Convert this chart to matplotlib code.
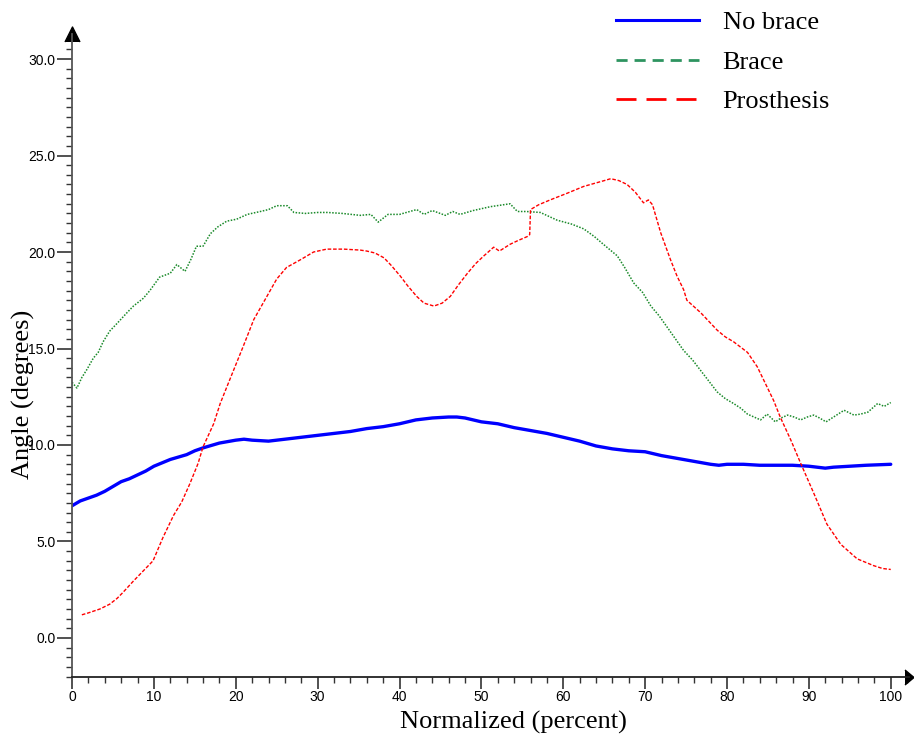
import matplotlib
matplotlib.use("Agg")
import matplotlib.pyplot as plt
from matplotlib.lines import Line2D
from matplotlib.ticker import MultipleLocator, FormatStrFormatter

# Data
no_brace_x = [0, 1, 2, 3, 4, 5, 6, 7, 8, 9, 10, 12, 14, 15, 16, 18, 20, 21, 22, 24,
              25, 27, 30, 32, 34, 36, 38, 40, 42, 44, 46, 47, 48, 50, 52, 54, 56, 58,
              60, 62, 64, 66, 68, 70, 72, 74, 76, 78, 79, 80, 82, 84, 86, 88, 90, 91,
              92, 93, 95, 97, 100]
no_brace_y = [6.85, 7.1, 7.25, 7.4, 7.6, 7.85, 8.1, 8.25, 8.45, 8.65, 8.9, 9.25, 9.5,
              9.7, 9.85, 10.1, 10.25, 10.3, 10.25, 10.2, 10.25, 10.35, 10.5, 10.6, 10.7,
              10.85, 10.95, 11.1, 11.3, 11.4, 11.45, 11.45, 11.4, 11.2, 11.1, 10.9,
              10.75, 10.6, 10.4, 10.2, 9.95, 9.8, 9.7, 9.65, 9.45, 9.3, 9.15, 9.0, 8.95,
              9.0, 9.0, 8.95, 8.95, 8.95, 8.9, 8.85, 8.8, 8.85, 8.9, 8.95, 9.0]

brace_x = [0, 0.6, 1.2, 1.8, 2.6, 3.2, 3.8, 4.6, 5.5, 6.7, 7.5, 8.7, 9.5, 10.7, 12.0,
           12.8, 13.8, 14.5, 15.2, 16.0, 16.9, 17.8, 18.9, 20.1, 21.4, 23.0, 24.0, 25.0,
           26.3, 27.1, 28.5, 30, 31.2, 33, 35.2, 36.5, 37.4, 38.6, 40, 42.1, 43, 44,
           45.6, 46.5, 47.4, 49, 51.1, 53.5, 54.4, 55.5, 57.2, 59.25, 61, 62.5, 63.8,
           64.9, 66.6, 67.5, 68.6, 69.7, 70.7, 71.7, 72.7, 73.7, 74.7, 75.8, 76.8, 77.8,
           78.8, 79.8, 80.8, 81.7, 82.5, 83.3, 84.1, 84.9, 85.9, 86.6, 87.4, 88.2, 89,
           89.8, 90.6, 91.3, 92.1, 93.2, 94.3, 95.5, 96.3, 97.2, 98.4, 99.2, 100]
brace_y = [13.25, 12.95, 13.5, 13.9, 14.5, 14.8, 15.35, 15.9, 16.3, 16.85, 17.2, 17.6,
           18.0, 18.7, 18.9, 19.35, 19.0, 19.6, 20.3, 20.3, 20.95, 21.3, 21.6, 21.7,
           21.95, 22.1, 22.2, 22.4, 22.4, 22.05, 22.0, 22.05, 22.05, 22.0, 21.9, 21.95,
           21.55, 21.95, 21.95, 22.2, 21.95, 22.15, 21.9, 22.1, 21.95, 22.15, 22.35,
           22.5, 22.1, 22.1, 22.05, 21.65, 21.45, 21.2, 20.8, 20.4, 19.8, 19.2, 18.4,
           17.9, 17.2, 16.7, 16.1, 15.5, 14.9, 14.4, 13.85, 13.3, 12.75, 12.4, 12.15,
           11.9, 11.6, 11.45, 11.3, 11.6, 11.2, 11.4, 11.55, 11.45, 11.3, 11.45, 11.55,
           11.4, 11.2, 11.5, 11.8, 11.55, 11.6, 11.7, 12.15, 12.0, 12.2]

prosthesis_x = [1.2, 2, 3.4, 4.6, 5.5, 6.2, 7.5, 8.3, 9.1, 9.9, 11.1, 12.4, 13.4, 14.4,
                15.4, 16.0, 17.3, 18.1, 18.9, 19.9, 20.9, 22.2, 23.8, 25, 26.2, 27.9,
                29.5, 31.1, 33.2, 35.2, 36, 37, 38.1, 39, 40.1, 41, 42.1, 43, 44.2, 45.2,
                46.2, 47.2, 48.3, 49.3, 50.3, 51.5, 52.2, 53.5, 54.5, 55.6, 55.9, 56.0,
                57, 58.4, 60.5, 62.5, 65, 65.8, 66.8, 67.8, 68.8, 69.8, 70.4, 70.9, 71.9,
                73.1, 73.9, 74.7, 75.1, 76.8, 78.8, 79.8, 80.8, 82.5, 83.7, 84.9, 85.7,
                86.5, 87.8, 89, 90.6, 92.2, 93.9, 95.9, 97.9, 99, 100]
prosthesis_y = [1.2, 1.3, 1.5, 1.75, 2.05, 2.35, 2.95, 3.3, 3.65, 4.0, 5.2, 6.35, 7.05,
                8.0, 9.05, 9.9, 11.1, 12.15, 13.0, 14.05, 15.1, 16.5, 17.7, 18.6, 19.2,
                19.6, 20.0, 20.15, 20.15, 20.1, 20.05, 19.95, 19.7, 19.3, 18.75, 18.25,
                17.7, 17.35, 17.2, 17.35, 17.7, 18.3, 18.9, 19.4, 19.8, 20.25, 20.05,
                20.4, 20.6, 20.8, 20.9, 22.2, 22.45, 22.7, 23.05, 23.4, 23.7, 23.8, 23.7,
                23.5, 23.1, 22.55, 22.7, 22.45, 21.0, 19.6, 18.75, 18.05, 17.5, 16.85,
                15.95, 15.6, 15.35, 14.8, 14.05, 13.0, 12.3, 11.45, 10.25, 9.05, 7.5, 5.9,
                4.85, 4.1, 3.75, 3.6, 3.55]

series_labels = ["No brace", "Brace", "Prosthesis"]

serif = "Liberation Serif"
sans = "Liberation Sans"

fig = plt.figure(figsize=(9.14, 7.48), dpi=100)
ax = fig.add_axes([0.0788, 0.0955, 0.9152, 0.8591])

ax.plot(no_brace_x, no_brace_y, color="blue", lw=2.4, solid_capstyle="round")
ax.plot(brace_x, brace_y, color="#1a8a2a", lw=1.1, linestyle=(0, (1, 1)))
ax.plot(prosthesis_x, prosthesis_y, color="red", lw=1.0, linestyle=(0, (2.6, 1.3)))

ax.set_xlim(0, 102.17)
ax.set_ylim(-2, 31.3)

# spines: only left and bottom, with arrow heads
for side in ["top", "right"]:
    ax.spines[side].set_visible(False)
ax.spines["left"].set_color("#555555")
ax.spines["bottom"].set_color("#222222")
ax.spines["left"].set_linewidth(1.3)
ax.spines["bottom"].set_linewidth(1.3)

x_arrow = [(-0.6, -1), (0.6, 0), (-0.6, 1)]
y_arrow = [(-1, -1), (0, 1), (1, -1)]
ax.plot(1, 0, marker=x_arrow, ms=10.8, color="black", transform=ax.transAxes, clip_on=False)
ax.plot(0, 1, marker=y_arrow, ms=10.8, color="black", transform=ax.transAxes, clip_on=False)

# ticks
ax.xaxis.set_minor_locator(MultipleLocator(2))
ax.yaxis.set_minor_locator(MultipleLocator(0.5))
ax.yaxis.set_major_formatter(FormatStrFormatter("%.1f"))
ax.set_xticks(list(range(0, 101, 10)))
ax.set_yticks([0, 5, 10, 15, 20, 25, 30])

ax.tick_params(axis="x", which="major", direction="out", length=8.5, width=1.2,
               color="#333333", pad=1.5, labelsize=10)
ax.tick_params(axis="x", which="minor", direction="out", length=4.5, width=1.0, color="#333333")
ax.tick_params(axis="y", which="major", direction="out", length=10.5, width=1.2,
               color="#333333", pad=1.5, labelsize=10)
ax.tick_params(axis="y", which="minor", direction="out", length=4.5, width=1.0, color="#333333")
for lab in ax.get_xticklabels() + ax.get_yticklabels():
    lab.set_fontfamily(sans)

ax.set_xlabel("Normalized (percent)", fontsize=19, fontfamily=serif)
ax.set_ylabel("Angle (degrees)", fontsize=19, fontfamily=serif)
ax.xaxis.set_label_coords(0.528, -0.054)
ax.yaxis.set_label_coords(-0.044, 0.439)

# legend uses its own dash patterns
handles = [
    Line2D([], [], color="blue", lw=2.2),
    Line2D([], [], color="#2e9460", lw=2.0, linestyle=(0, (4, 2.5))),
    Line2D([], [], color="red", lw=2.0, linestyle=(0, (7.2, 3.6))),
]
ax.legend(handles, series_labels, loc="upper left",
          bbox_to_anchor=(616 / 914, 1 - 11 / 748), bbox_transform=fig.transFigure,
          frameon=False, borderpad=0, borderaxespad=0, handlelength=3.14,
          handletextpad=0.9, labelspacing=0.6,
          prop={"family": serif, "size": 19})

fig.savefig("out.png", dpi=100)
